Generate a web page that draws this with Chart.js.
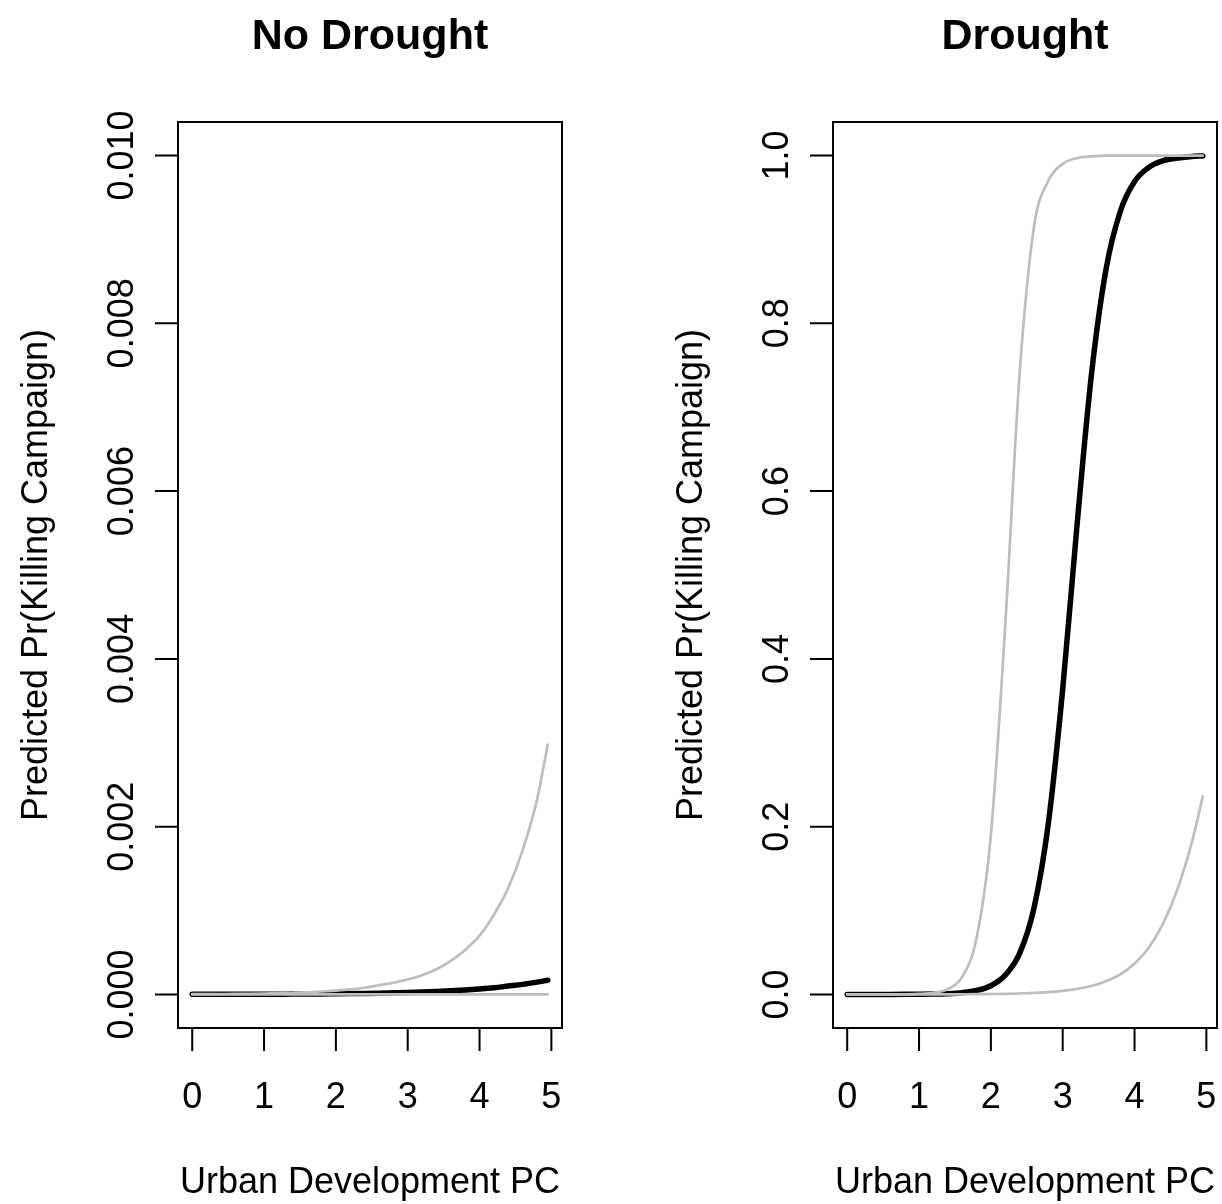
<!DOCTYPE html>
<html>
<head>
<meta charset="utf-8">
<script src="https://cdn.jsdelivr.net/npm/chart.js@4.4.1/dist/chart.umd.min.js"></script>
<style>
  html, body { margin: 0; padding: 0; background: #fff; }
  #wrap { position: relative; width: 1222px; height: 1204px; }
  canvas { position: absolute; top: 0; }
</style>
</head>
<body>
<div id="wrap">
  <canvas id="noDrought" width="611" height="1204" style="left:0"></canvas>
  <canvas id="drought" width="611" height="1204" style="left:611px"></canvas>
</div>
<script>
// Urban development PC values where the curves were read
const xs = [0, 0.2, 0.4, 0.6, 0.8, 1.0, 1.2, 1.4, 1.6, 1.8, 2.0, 2.2, 2.4,
            2.6, 2.8, 3.0, 3.2, 3.4, 3.6, 3.8, 4.0, 4.2, 4.4, 4.6, 4.8, 4.95];

// No drought: predicted probability and bounds
const noDroughtUpper = [0.000003, 0.000004, 0.000005, 0.000006, 0.000008, 0.000011, 0.000015,
  0.00002, 0.000026, 0.000035, 0.000046, 0.00006, 0.00008, 0.00011, 0.00014, 0.00018,
  0.00023, 0.0003, 0.0004, 0.00053, 0.0007, 0.00095, 0.00127, 0.00172, 0.00232, 0.00298];
const noDroughtMean = [0.000001, 0.000001, 0.0000015, 0.000002, 0.0000025, 0.000003, 0.0000035,
  0.000004, 0.000005, 0.000006, 0.000008, 0.00001, 0.000012, 0.000015, 0.000019, 0.000023,
  0.000028, 0.000035, 0.000043, 0.000053, 0.000065, 0.00008, 0.0001, 0.00012, 0.000147, 0.00017];
const noDroughtLower = [0, 0, 0, 0, 0, 0, 0, 0, 0, 0, 0, 0, 0, 0, 0, 0,
  0, 0, 0, 0.000001, 0.000001, 0.000001, 0.000001, 0.000002, 0.000002, 0.000002];

// Drought: predicted probability and bounds
const droughtUpper = [0, 0, 0.00001, 0.00005, 0.0002, 0.0006, 0.0019, 0.0064, 0.021, 0.067,
  0.19, 0.44, 0.74, 0.915, 0.97, 0.99, 0.997, 0.999, 1.0, 1.0, 1.0, 1.0, 1.0, 1.0, 1.0, 1.0];
const droughtMean = [0.000004, 0.000008, 0.000017, 0.00004, 0.00009, 0.0002, 0.0004, 0.0009,
  0.0021, 0.0047, 0.0104, 0.023, 0.049, 0.103, 0.204, 0.364, 0.56, 0.739, 0.863, 0.933,
  0.969, 0.986, 0.994, 0.997, 0.999, 0.9995];
const droughtLower = [0.000006, 0.00001, 0.000015, 0.00002, 0.00003, 0.00005, 0.00008, 0.00012,
  0.0002, 0.0003, 0.0005, 0.0007, 0.0011, 0.0018, 0.0027, 0.0042, 0.0066, 0.010, 0.0157,
  0.024, 0.037, 0.056, 0.085, 0.126, 0.182, 0.236];

const xTicks = [0, 1, 2, 3, 4, 5];
const noDroughtYTicks = [0, 0.002, 0.004, 0.006, 0.008, 0.010];
const noDroughtYLabels = ['0.000', '0.002', '0.004', '0.006', '0.008', '0.010'];
const droughtYTicks = [0, 0.2, 0.4, 0.6, 0.8, 1.0];
const droughtYLabels = ['0.0', '0.2', '0.4', '0.6', '0.8', '1.0'];

const FONT = '"Liberation Sans", Arial, Helvetica, sans-serif';
const GREY = '#bebebe';

// R-style box, axes and labels
const rAxes = {
  id: 'rAxes',
  afterDraw(chart, args, o) {
    const { ctx, chartArea: a, scales: { x, y } } = chart;
    ctx.save();
    ctx.strokeStyle = '#000';
    ctx.fillStyle = '#000';
    ctx.lineWidth = 2;
    ctx.strokeRect(a.left, a.top, a.right - a.left, a.bottom - a.top);

    ctx.beginPath();
    const xp = xTicks.map(v => x.getPixelForValue(v));
    ctx.moveTo(xp[0], a.bottom);
    ctx.lineTo(xp[xp.length - 1], a.bottom);
    xp.forEach(px => { ctx.moveTo(px, a.bottom); ctx.lineTo(px, a.bottom + 23); });
    const yp = o.yTicks.map(v => y.getPixelForValue(v));
    ctx.moveTo(a.left, yp[0]);
    ctx.lineTo(a.left, yp[yp.length - 1]);
    yp.forEach(py => { ctx.moveTo(a.left, py); ctx.lineTo(a.left - 23, py); });
    ctx.stroke();

    ctx.font = '36px ' + FONT;
    ctx.textAlign = 'center';
    ctx.textBaseline = 'alphabetic';
    xTicks.forEach((v, i) => ctx.fillText(String(v), xp[i], a.bottom + 80));
    ctx.fillText(o.xTitle, (a.left + a.right) / 2, a.bottom + 165);

    o.yLabels.forEach((t, i) => {
      ctx.save();
      ctx.translate(a.left - 45, yp[i]);
      ctx.rotate(-Math.PI / 2);
      ctx.fillText(t, 0, 0);
      ctx.restore();
    });
    ctx.save();
    ctx.translate(a.left - 131, (a.top + a.bottom) / 2);
    ctx.rotate(-Math.PI / 2);
    ctx.fillText(o.yTitle, 0, 0);
    ctx.restore();

    ctx.font = 'bold 43px ' + FONT;
    ctx.fillText(o.title, (a.left + a.right) / 2, 49);
    ctx.restore();
  }
};

function curve(values, color, width, order) {
  return {
    data: xs.map((v, i) => ({ x: v, y: values[i] })),
    borderColor: color,
    borderWidth: width,
    borderCapStyle: 'round',
    borderJoinStyle: 'round',
    pointRadius: 0,
    cubicInterpolationMode: 'monotone',
    fill: false,
    order,
  };
}

function panel(id, title, series, yMin, yMax, yTicks, yLabels, pad) {
  return new Chart(document.getElementById(id), {
    type: 'line',
    data: {
      datasets: [
        curve(series[0], GREY, 2.7, 1),
        curve(series[2], GREY, 2.7, 1),
        curve(series[1], '#000', 5.5, 2),
      ],
    },
    options: {
      responsive: false,
      animation: false,
      layout: { padding: pad },
      scales: {
        x: { type: 'linear', min: -0.198, max: 5.148, display: false },
        y: { type: 'linear', min: yMin, max: yMax, display: false },
      },
      plugins: {
        legend: { display: false },
        tooltip: { enabled: false },
        rAxes: {
          title,
          yTicks,
          yLabels,
          xTitle: 'Urban Development PC',
          yTitle: 'Predicted Pr(Killing Campaign)',
        },
      },
    },
    plugins: [rAxes],
  });
}

panel('noDrought', 'No Drought', [noDroughtUpper, noDroughtMean, noDroughtLower],
  -0.0004, 0.0104, noDroughtYTicks, noDroughtYLabels,
  { left: 178, right: 49, top: 122, bottom: 176 });
panel('drought', 'Drought', [droughtUpper, droughtMean, droughtLower],
  -0.04, 1.04, droughtYTicks, droughtYLabels,
  { left: 222, right: 5, top: 122, bottom: 176 });
</script>
</body>
</html>
